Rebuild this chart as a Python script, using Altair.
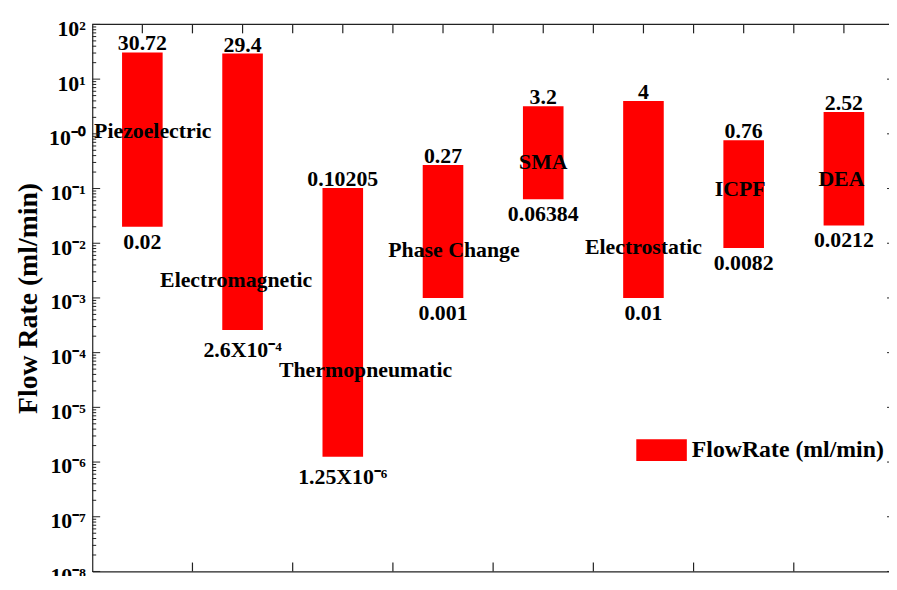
import altair as alt
import pandas as pd

# ---- data ----
categories = ["Piezoelectric", "Electromagnetic", "Thermopneumatic", "Phase Change",
              "SMA", "Electrostatic", "ICPF", "DEA"]
# bar ends as drawn (the Electrostatic bar is drawn down to 1e-3 although labelled 0.01)
low = [0.02, 2.6e-4, 1.25e-6, 0.001, 0.06384, 0.001, 0.0082, 0.0212]
high = [30.72, 29.4, 0.10205, 0.27, 3.2, 4, 0.76, 2.52]
low_text = ["0.02", "2.6X10⁻⁴", "1.25X10⁻⁶", "0.001", "0.06384", "0.01", "0.0082", "0.0212"]
high_text = ["30.72", "29.4", "0.10205", "0.27", "3.2", "4", "0.76", "2.52"]
# where each category name is written (flow-rate value of its baseline, shift in category units)
name_at = [0.826, 1.58e-3, 3.56e-5, 5.53e-3, 0.226, 6.27e-3, 0.0734, 0.111]
name_shift = [0.104, -0.064, 0.227, 0.109, 0.0, 0.0, -0.035, -0.025]

legend_label = "FlowRate (ml/min)"
y_title = "Flow Rate (ml/min)"

y_tick_values = [1e-8, 1e-7, 1e-6, 1e-5, 1e-4, 1e-3, 1e-2, 1e-1, 1e0, 1e1, 1e2]
y_tick_labels = ["10⁻⁸", "10⁻⁷", "10⁻⁶", "10⁻⁵", "10⁻⁴", "10⁻³", "10⁻²", "10⁻¹", "10⁻⁰", "10¹", "10²"]
minor_values = [m * 10.0 ** e for e in range(-8, 2) for m in range(2, 10)]
top_ticks = [1 + 0.5 * k for k in range(15)]
bottom_ticks = [1.5 + k for k in range(7)]

FONT = "Liberation Serif"
W, H = 804, 552
AX = "#222222"

df = pd.DataFrame({
    "cat": categories,
    "idx": list(range(1, len(categories) + 1)),
    "low": low,
    "high": high,
    "low_text": low_text,
    "high_text": high_text,
    "name_at": name_at,
    "name_shift": name_shift,
})

x_scale = alt.Scale(domain=[0.5, 8.45], nice=False, zero=False)
y_scale = alt.Scale(type="log", domain=[1e-8, 1e2], nice=False)

labels_js = "[" + ",".join("'" + s + "'" for s in y_tick_labels) + "]"
y_axis = alt.Axis(
    values=y_tick_values,
    labelExpr=labels_js + "[round(log(datum.value)/LN10)+8]",
    ticks=False, grid=False, domain=True, domainColor=AX, domainWidth=1.2,
    labelFont=FONT, labelFontSize=22, labelFontWeight="bold", labelColor="black",
    labelPadding=7, labelOffset=4,
    title=y_title, titleFont=FONT, titleFontSize=28, titleFontWeight="bold",
    titleColor="black", titlePadding=6,
)
x_axis = alt.Axis(labels=False, ticks=False, grid=False, domain=True,
                  domainColor=AX, domainWidth=1.2, title=None)

base = alt.Chart(df)

bars = base.transform_calculate(
    x0="datum.idx - 0.2025", x1="datum.idx + 0.2025", series="'" + legend_label + "'"
).mark_bar(stroke=None).encode(
    x=alt.X("x0:Q", scale=x_scale, axis=x_axis),
    x2="x1:Q",
    y=alt.Y("low:Q", scale=y_scale, axis=y_axis),
    y2="high:Q",
    color=alt.Color("series:N", scale=alt.Scale(range=["#ff0000"]),
                    legend=alt.Legend(
                        orient="none", legendX=549, legendY=404, title=None,
                        symbolType="M-1,-0.43H1V0.43H-1Z", symbolSize=2601,
                        symbolStrokeWidth=0, labelFont=FONT, labelFontSize=24,
                        labelFontWeight="bold", labelColor="black", labelOffset=5,
                        padding=0, labelLimit=400)),
)

txt = dict(font=FONT, fontSize=22, fontWeight="bold", color="black", align="center",
           baseline="alphabetic")

high_lbl = base.mark_text(dy=-2, **txt).encode(
    x=alt.X("idx:Q", scale=x_scale, axis=x_axis),
    y=alt.Y("high:Q", scale=y_scale, axis=y_axis),
    text="high_text:N",
)
low_plain = base.transform_filter("indexof(datum.low_text, 'X') < 0").mark_text(dy=22, **txt).encode(
    x=alt.X("idx:Q", scale=x_scale, axis=x_axis),
    y=alt.Y("low:Q", scale=y_scale, axis=y_axis),
    text="low_text:N",
)
low_sup = base.transform_filter("indexof(datum.low_text, 'X') >= 0").mark_text(dy=27, **txt).encode(
    x=alt.X("idx:Q", scale=x_scale, axis=x_axis),
    y=alt.Y("low:Q", scale=y_scale, axis=y_axis),
    text="low_text:N",
)
names = base.transform_calculate(xn="datum.idx + datum.name_shift").mark_text(**txt).encode(
    x=alt.X("xn:Q", scale=x_scale, axis=x_axis),
    y=alt.Y("name_at:Q", scale=y_scale, axis=y_axis),
    text="cat:N",
)

# tick stubs pointing into the plot (like MATLAB)
ymaj = pd.DataFrame({"v": y_tick_values})
ymin = pd.DataFrame({"v": minor_values})
left_major = alt.Chart(ymaj).mark_rule(color=AX, strokeWidth=1).encode(
    y=alt.Y("v:Q", scale=y_scale, axis=y_axis), x=alt.value(0), x2=alt.value(8))
left_minor = alt.Chart(ymin).mark_rule(color=AX, strokeWidth=1).encode(
    y=alt.Y("v:Q", scale=y_scale, axis=y_axis), x=alt.value(0), x2=alt.value(4))
right_major = alt.Chart(ymaj).mark_rule(color=AX, strokeWidth=1).encode(
    y=alt.Y("v:Q", scale=y_scale, axis=y_axis), x=alt.value(W - 2), x2=alt.value(W))
top_t = alt.Chart(pd.DataFrame({"t": top_ticks})).mark_rule(color=AX, strokeWidth=1.2).encode(
    x=alt.X("t:Q", scale=x_scale, axis=x_axis), y=alt.value(0), y2=alt.value(9))
bot_t = alt.Chart(pd.DataFrame({"t": bottom_ticks})).mark_rule(color=AX, strokeWidth=1.2).encode(
    x=alt.X("t:Q", scale=x_scale, axis=x_axis), y=alt.value(H - 9), y2=alt.value(H))
top_line = alt.Chart(pd.DataFrame({"a": [0]})).mark_rule(color=AX, strokeWidth=1.2).encode(
    x=alt.value(0), x2=alt.value(W), y=alt.value(0))

chart = alt.layer(
    bars, high_lbl, low_plain, low_sup, names,
    left_major, left_minor, right_major, top_t, bot_t, top_line,
).properties(
    width=W, height=H,
    autosize=alt.AutoSizeParams(type="none"),
    padding={"left": 85, "top": 14, "right": 0, "bottom": 2},
    background="white",
).configure_view(stroke=None)

chart.save("out.html", embed_options={"renderer": "svg", "actions": False})
